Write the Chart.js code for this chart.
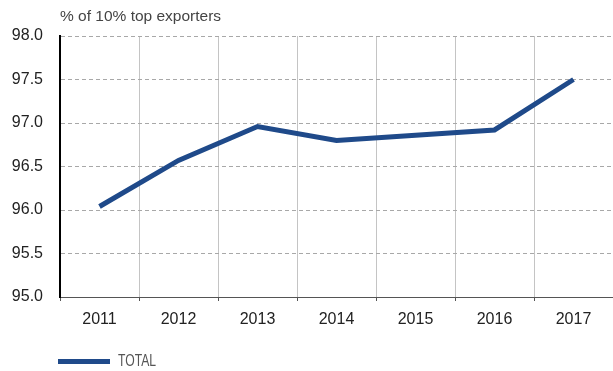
<!DOCTYPE html>
<html>
<head>
<meta charset="utf-8">
<script src="https://cdn.jsdelivr.net/npm/chart.js@4/dist/chart.umd.min.js"></script>
<style>
  html, body { margin: 0; padding: 0; background: #fff; }
  #wrap { position: relative; width: 613px; height: 371px; }
  #exportChart { position: absolute; left: 0; top: 0; }
  #unit {
    position: absolute; left: 60px; top: 7px;
    font: 15.5px "Liberation Sans", Arial, sans-serif; color: #444;
  }
  #legend {
    position: absolute; left: 58px; top: 352px;
    font: 16px "Liberation Sans", Arial, sans-serif; color: #555;
    display: flex; align-items: center;
  }
  #legend .swatch { width: 52px; height: 5px; background: #1f4a8a; margin-right: 8px; }
  #legend .name { display: inline-block; transform: scaleX(0.76); transform-origin: left center; }
</style>
</head>
<body>
<div id="wrap">
  <canvas id="exportChart" width="613" height="371"></canvas>
  <div id="unit">% of 10% top exporters</div>
  <div id="legend"><span class="swatch"></span><span class="name">TOTAL</span></div>
</div>
<script>
const years = ['2011', '2012', '2013', '2014', '2015', '2016', '2017'];
const totalShare = [96.04, 96.57, 96.96, 96.80, 96.86, 96.92, 97.50];
const yTicks = [95.0, 95.5, 96.0, 96.5, 97.0, 97.5, 98.0];

const tickFont = { family: '"Liberation Sans", Arial, sans-serif', size: 16 };

new Chart(document.getElementById('exportChart'), {
  type: 'line',
  data: {
    labels: years,
    datasets: [{
      label: 'TOTAL',
      data: totalShare,
      borderColor: '#1f4a8a',
      backgroundColor: '#1f4a8a',
      borderWidth: 5,
      pointRadius: 0,
      tension: 0
    }]
  },
  options: {
    responsive: false,
    animation: false,
    layout: { padding: { top: 36, right: 0, bottom: 34, left: 0 } },
    plugins: { legend: { display: false }, tooltip: { enabled: false } },
    scales: {
      x: {
        offset: true,
        grid: { offset: true, color: '#c4c4c4', lineWidth: 1, tickLength: 4, tickColor: '#555' },
        border: { display: true, color: '#555', width: 1 },
        ticks: { color: '#222', font: tickFont, padding: 9 },
        afterFit: (axis) => { axis.height = 40; }
      },
      y: {
        min: 95,
        max: 98,
        afterBuildTicks: (axis) => { axis.ticks = yTicks.map(v => ({ value: v })); },
        grid: { color: '#a8a8a8', lineWidth: 1, drawTicks: false },
        // dash here applies to the horizontal grid lines
        border: { display: true, color: '#000', width: 2, dash: [4, 3] },
        ticks: {
          color: '#222', font: tickFont, padding: 17,
          callback: (v) => Number(v).toFixed(1)
        },
        afterFit: (axis) => { axis.width = 60; }
      }
    }
  }
});
</script>
</body>
</html>
